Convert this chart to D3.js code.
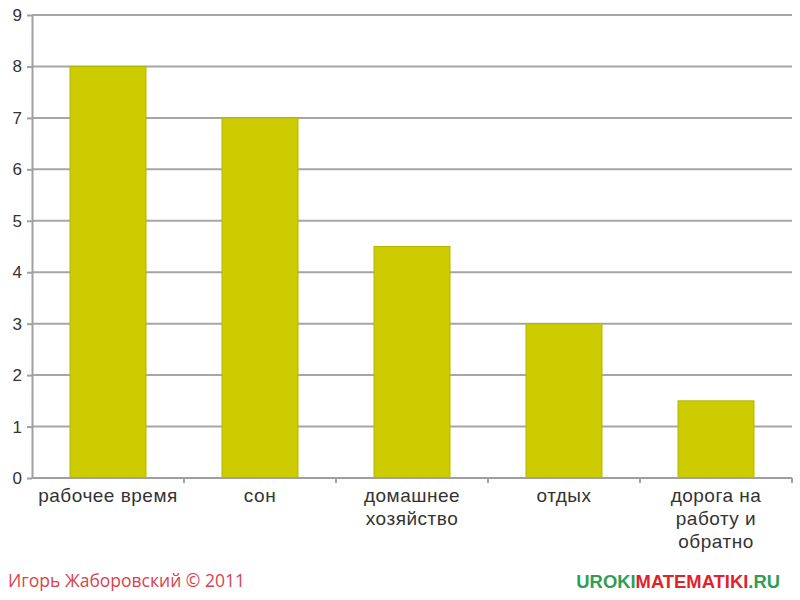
<!DOCTYPE html>
<html><head><meta charset="utf-8">
<script src="https://cdn.jsdelivr.net/npm/d3@7"></script>
<style>body{margin:0;background:#fff}svg{display:block}</style>
</head><body>
<svg id="c" width="800" height="600"></svg>
<script>
const categories = ["рабочее время", "сон", "домашнее хозяйство", "отдых", "дорога на работу и обратно"];
const categoryLines = [["рабочее время"], ["сон"], ["домашнее", "хозяйство"], ["отдых"], ["дорога на", "работу и", "обратно"]];
const values = [8, 7, 4.5, 3, 1.5];
const yTicks = [0, 1, 2, 3, 4, 5, 6, 7, 8, 9];

const svg = d3.select("#c");
const m = {left: 32, right: 8, top: 15, bottom: 122};
const W = 800, H = 600;
const x = d3.scaleBand().domain(categories).range([m.left, W - m.right]).paddingInner(0.5).paddingOuter(0.25);
const y = d3.scaleLinear().domain([0, 9]).range([H - m.bottom, m.top]);

// gridlines
svg.append("g").selectAll("line").data(yTicks.filter(d => d > 0)).join("line")
  .attr("x1", m.left).attr("x2", W - m.right)
  .attr("y1", d => y(d)).attr("y2", d => y(d))
  .attr("stroke", "#a6a6a6").attr("stroke-width", 2);

// bars
svg.append("g").selectAll("rect").data(values).join("rect")
  .attr("x", (d, i) => x(categories[i]))
  .attr("width", x.bandwidth())
  .attr("y", d => y(d))
  .attr("height", d => y(0) - y(d))
  .attr("fill", "#cccc00")
  .attr("stroke", "#b5b500").attr("stroke-width", 1);

// y axis
const ya = svg.append("g").attr("transform", `translate(${m.left},0)`)
  .call(d3.axisLeft(y).tickValues(yTicks).tickSize(5).tickPadding(5).tickSizeOuter(0));
ya.select(".domain").attr("stroke", "#a0a0a0").attr("stroke-width", 2);
ya.selectAll(".tick line").attr("stroke", "#a0a0a0").attr("stroke-width", 2);
ya.selectAll(".tick text").attr("fill", "#333").style("font-family", "Liberation Sans, Arial, sans-serif").style("font-size", "17px");

// x axis baseline
const y0 = y(0);
svg.append("line").attr("x1", m.left).attr("x2", W - m.right).attr("y1", y0).attr("y2", y0)
  .attr("stroke", "#a0a0a0").attr("stroke-width", 2);
// category boundary ticks
const bounds = d3.range(categories.length + 1).map(i => m.left + i * (W - m.right - m.left) / categories.length);
svg.append("g").selectAll("line").data(bounds.slice(1)).join("line")
  .attr("x1", d => d).attr("x2", d => d).attr("y1", y0).attr("y2", y0 + 5)
  .attr("stroke", "#a0a0a0").attr("stroke-width", 2);

// x labels
const lab = svg.append("g").style("font-family", "Liberation Sans, Arial, sans-serif").style("font-size", "19px")
  .style("letter-spacing", "0.5px").attr("fill", "#333");
categoryLines.forEach((lines, i) => {
  const cx = x(categories[i]) + x.bandwidth() / 2;
  const t = lab.append("text").attr("text-anchor", "middle");
  lines.forEach((ln, j) => {
    t.append("tspan").attr("x", cx).attr("y", y0 + 24 + j * 23).text(ln);
  });
});

// footer
svg.append("text").attr("x", 8).attr("y", 587)
  .style("font-family", "Open Sans, sans-serif").style("font-size", "17.5px")
  .attr("fill", "#d8434c").text("Игорь Жаборовский © 2011");
const ft = svg.append("text").attr("x", 780).attr("y", 588).attr("text-anchor", "end")
  .style("font-family", "Liberation Sans, Arial, sans-serif").style("font-size", "18.4px").style("font-weight", "bold");
ft.append("tspan").attr("fill", "#2f9e52").text("UROKI");
ft.append("tspan").attr("fill", "#e0232b").text("MATEMATIKI");
ft.append("tspan").attr("fill", "#2f9e52").text(".RU");
</script>
</body></html>
